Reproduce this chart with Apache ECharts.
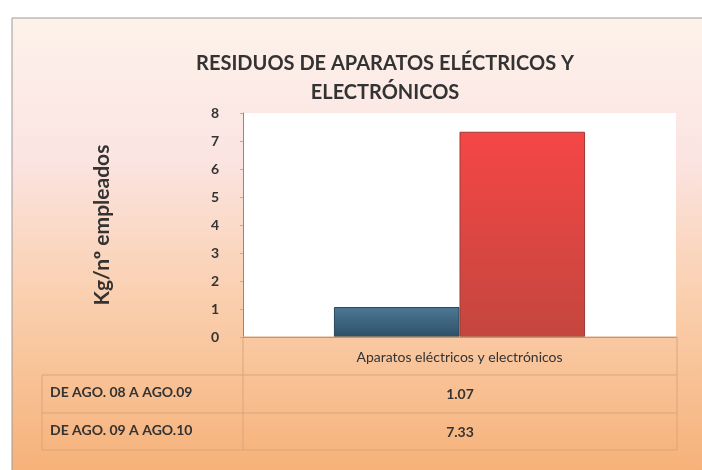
<!DOCTYPE html>
<html>
<head>
<meta charset="utf-8">
<script src="https://cdn.jsdelivr.net/npm/echarts@6/dist/echarts.min.js"></script>
<style>
    html, body { margin: 0; padding: 0; background: #fff; }
    #chart { width: 702px; height: 470px; }
</style>
</head>
<body>
<div id="chart"></div>
<script>
    // datos del gráfico
    const categorias = ['Aparatos eléctricos y electrónicos'];
    const periodos = ['DE AGO. 08 A AGO.09', 'DE AGO. 09 A AGO.10'];
    const valores0809 = [1.07];
    const valores0910 = [7.33];
    const textosTabla = ['1.07', '7.33'];

    const chart = echarts.init(document.getElementById('chart'));
    const fuente = 'Lato, "Open Sans", sans-serif';
    const oscuro = '#333333';
    const linea = '#dba57a';

    // filas de la tabla de datos
    let tabla = [];
    const filasY = [375, 413];
    periodos.forEach(function (p, i) {
        tabla.push({
            type: 'text', left: 50, top: filasY[i] + 10,
            style: { text: p, font: 'bold 14px ' + fuente, fill: oscuro }
        });
        tabla.push({
            type: 'text', x: 460, y: filasY[i] + 19,
            style: { text: textosTabla[i], font: 'bold 14px ' + fuente, fill: oscuro, align: 'center', verticalAlign: 'middle' }
        });
    });
    [[243, 337, 677, 337], [42, 375, 677, 375], [42, 413, 677, 413], [42, 450, 677, 450],
     [42, 375, 42, 450], [243, 337, 243, 450], [677, 337, 677, 450]].forEach(function (l) {
        tabla.push({
            type: 'line', shape: { x1: l[0], y1: l[1], x2: l[2], y2: l[3] },
            style: { stroke: linea, lineWidth: 1 }, z: 5
        });
    });

    chart.setOption({
        backgroundColor: '#ffffff',
        animation: false,
        title: {
            text: 'RESIDUOS DE APARATOS ELÉCTRICOS Y\nELECTRÓNICOS',
            left: 380, top: 44, textAlign: 'center',
            textStyle: { fontFamily: fuente, fontWeight: 'bold', fontSize: 20, color: oscuro, lineHeight: 29 }
        },
        graphic: [{
            type: 'rect', shape: { x: 12, y: 18, width: 700, height: 460 }, z: -10,
            style: {
                stroke: '#9a9a9a', lineWidth: 1,
                fill: new echarts.graphic.LinearGradient(0, 0, 0, 1, [
                    { offset: 0, color: '#fdf2ea' },
                    { offset: 0.3, color: '#fbe4e2' },
                    { offset: 0.6, color: '#fad0b0' },
                    { offset: 1, color: '#f6b076' }
                ])
            }
        }].concat(tabla),
        grid: { left: 243, right: 26, top: 113, bottom: 133, show: true, backgroundColor: '#ffffff', borderWidth: 0 },
        xAxis: {
            type: 'category',
            data: categorias,
            axisLine: { show: true, lineStyle: { color: '#8a8a8a' } },
            axisTick: { show: false },
            axisLabel: { margin: 13, fontFamily: fuente, fontSize: 14, color: oscuro }
        },
        yAxis: {
            type: 'value',
            min: 0, max: 8, interval: 1,
            name: 'Kg/nº empleados',
            nameLocation: 'middle',
            nameGap: 130,
            nameTextStyle: { fontFamily: fuente, fontWeight: 'bold', fontSize: 21, color: oscuro },
            axisLine: { show: true, lineStyle: { color: '#8a8a8a' } },
            axisTick: { show: true, length: 3, lineStyle: { color: '#b0b0b0' } },
            splitLine: { show: false },
            axisLabel: { margin: 24, fontFamily: fuente, fontWeight: 'bold', fontSize: 14, color: oscuro }
        },
        series: [{
            name: periodos[0],
            type: 'bar',
            data: valores0809,
            barGap: '0%',
            barCategoryGap: '42%',
            itemStyle: {
                borderColor: '#2a465a', borderWidth: 1,
                color: new echarts.graphic.LinearGradient(0, 0, 0, 1, [
                    { offset: 0, color: '#4d7894' },
                    { offset: 1, color: '#2e5068' }
                ])
            }
        }, {
            name: periodos[1],
            type: 'bar',
            data: valores0910,
            itemStyle: {
                borderColor: '#9a3a34', borderWidth: 1,
                color: new echarts.graphic.LinearGradient(0, 0, 0, 1, [
                    { offset: 0, color: '#f54646' },
                    { offset: 1, color: '#c4463e' }
                ])
            }
        }]
    });
</script>
</body>
</html>
